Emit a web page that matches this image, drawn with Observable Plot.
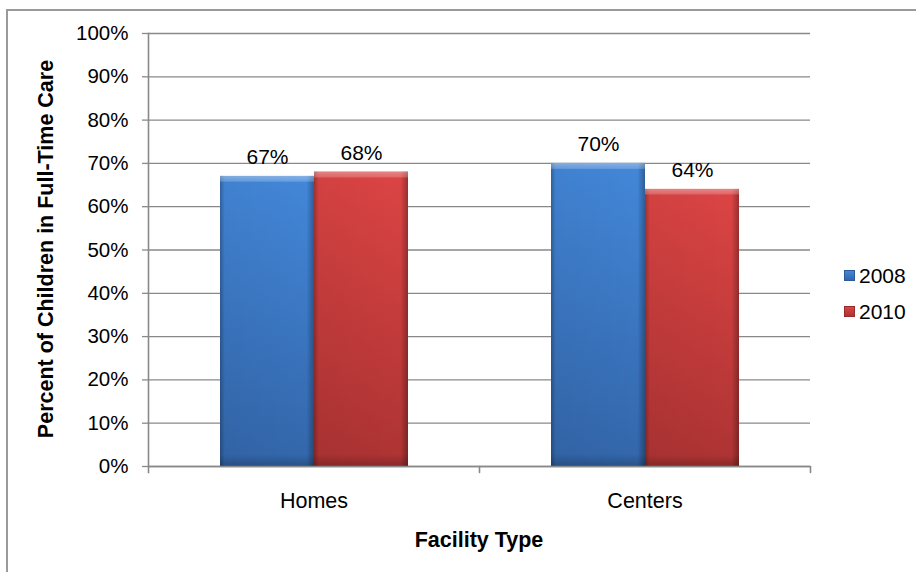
<!DOCTYPE html>
<html>
<head>
<meta charset="utf-8">
<script src="https://cdn.jsdelivr.net/npm/d3@7"></script>
<script src="https://cdn.jsdelivr.net/npm/@observablehq/plot@0.6"></script>
<style>
  html, body { margin: 0; padding: 0; background: #fff; }
  body { width: 916px; height: 572px; overflow: hidden; position: relative;
         font-family: "Liberation Sans", Arial, sans-serif; color: #000; }
  #box { position: absolute; left: 6px; top: 9px; width: 930px; height: 580px;
         border: 2px solid #9a9a9a; box-sizing: border-box; }
  #chart { position: absolute; left: 0; top: 0; }
  .title { position: absolute; font-weight: bold; font-size: 21.5px; line-height: 22px;
           white-space: nowrap; transform: translate(-50%, -50%); }
  .title.y { transform: translate(-50%, -50%) rotate(-90deg); }
  .swatch { position: absolute; width: 11px; height: 11px; box-sizing: border-box; }
  .legend-label { position: absolute; font-size: 21px; line-height: 20px; }
</style>
</head>
<body>
<div id="box"></div>
<div id="chart"></div>
<div class="title y" style="left:45.5px; top:249px;">Percent of Children in Full-Time Care</div>
<div class="title" style="left:479px; top:540px;">Facility Type</div>
<div id="legend"></div>
<script>
// Facility types along the x axis and survey years within each group
const categories = ["Homes", "Centers"];
const years = ["2008", "2010"];

// Percent of children in full-time care, one value per facility type
const values2008 = [67, 70];
const values2010 = [68, 64];

// Y axis ticks (percent)
const yTicks = [0, 10, 20, 30, 40, 50, 60, 70, 80, 90, 100];

// Series colours: [top, bottom, edge] of the bevelled bars
const seriesShades = {
  "2008": ["#4387d9", "#3366aa", "#2c5a98"],
  "2010": ["#dc4444", "#ad3333", "#962b2b"]
};

const rows = categories.flatMap((category, i) => [
  {category, year: years[0], value: values2008[i]},
  {category, year: years[1], value: values2010[i]}
]);

const axisColor = "#898989";

// Gradient definitions used by the bar fills
function gradientDefs() {
  const defs = d3.create("svg:defs");
  for (const year of years) {
    const [top, bottom] = seriesShades[year];
    const g = defs.append("linearGradient")
      .attr("id", `fill${year}`).attr("x1", 0).attr("y1", 0).attr("x2", 0).attr("y2", 1);
    g.append("stop").attr("offset", "0%").attr("stop-color", top);
    g.append("stop").attr("offset", "100%").attr("stop-color", bottom);
  }
  // darker vertical edges
  const side = defs.append("linearGradient")
    .attr("id", "sideShade").attr("x1", 0).attr("y1", 0).attr("x2", 1).attr("y2", 0);
  [["0%", 0.28], ["5%", 0.04], ["92%", 0.0], ["100%", 0.3]].forEach(([o, a]) =>
    side.append("stop").attr("offset", o).attr("stop-color", "#000").attr("stop-opacity", a));
  // lighter top bevel and darker foot
  const top = defs.append("linearGradient")
    .attr("id", "topShade").attr("x1", 0).attr("y1", 0).attr("x2", 0).attr("y2", 1);
  [["#fff", "0%", 0.35], ["#fff", "1.8%", 0.2], ["#fff", "2.2%", 0], ["#000", "96%", 0], ["#000", "100%", 0.2]].forEach(([c, o, a]) =>
    top.append("stop").attr("offset", o).attr("stop-color", c).attr("stop-opacity", a));
  return defs.node();
}

// Short line segment used for the category tick marks
const tickShape = {
  draw(context, length) {
    context.moveTo(0, 0);
    context.lineTo(0, -length);
  }
};

const chart = Plot.plot({
  width: 916,
  height: 572,
  marginLeft: 148,
  marginRight: 106,
  marginTop: 33,
  marginBottom: 106,
  style: {fontFamily: "'Liberation Sans', Arial, sans-serif", fontSize: "20px", color: "#000", background: "transparent", overflow: "visible"},
  fx: {domain: categories, padding: 0, label: null},
  x: {domain: years, paddingInner: 0, paddingOuter: 0.75, axis: null},
  y: {domain: [0, 100], axis: null},
  color: {domain: years, range: years.map((y) => `url(#fill${y})`)},
  marks: [
    gradientDefs,
    Plot.gridY(yTicks, {stroke: axisColor, strokeOpacity: 1, strokeWidth: 1.3}),
    Plot.barY(rows, {fx: "category", x: "year", y: "value", fill: "year"}),
    Plot.barY(rows, {fx: "category", x: "year", y: "value", fill: "url(#sideShade)"}),
    Plot.barY(rows, {fx: "category", x: "year", y: "value", fill: "url(#topShade)"}),
    Plot.text(rows, {fx: "category", x: "year", y: "value", text: (d) => `${d.value}%`,
      lineAnchor: "bottom", dy: -12, fontSize: 21, fill: "#000"}),
    Plot.ruleY([0], {stroke: axisColor, strokeWidth: 1.6}),
    Plot.frame({anchor: "left", facetAnchor: "left", stroke: axisColor, strokeWidth: 1.6, insetBottom: -6}),
    Plot.vector([0], {frameAnchor: "bottom-right", length: 6, rotate: 180, anchor: "start",
      shape: tickShape, stroke: axisColor, strokeWidth: 1.6}),
    Plot.axisY(yTicks, {tickFormat: (d) => `${d}%`, tickSize: 6, tickPadding: 14,
      stroke: axisColor, strokeWidth: 1.3, fontSize: 20.5, label: null}),
    Plot.axisFx({anchor: "bottom", tickSize: 0, tickPadding: 26, fontSize: 21.5, label: null})
  ]
});
document.getElementById("chart").append(chart);

// Legend at the right of the plot
const legend = document.getElementById("legend");
years.forEach((year, i) => {
  const [top, bottom, edge] = seriesShades[year];
  const sw = document.createElement("div");
  sw.className = "swatch";
  sw.style.left = "844px";
  sw.style.top = `${270 + i * 36}px`;
  sw.style.background = `linear-gradient(${top}, ${bottom})`;
  sw.style.border = `1px solid ${edge}`;
  legend.append(sw);
  const label = document.createElement("div");
  label.className = "legend-label";
  label.style.left = "859px";
  label.style.top = `${266 + i * 36}px`;
  label.textContent = year;
  legend.append(label);
});
</script>
</body>
</html>
